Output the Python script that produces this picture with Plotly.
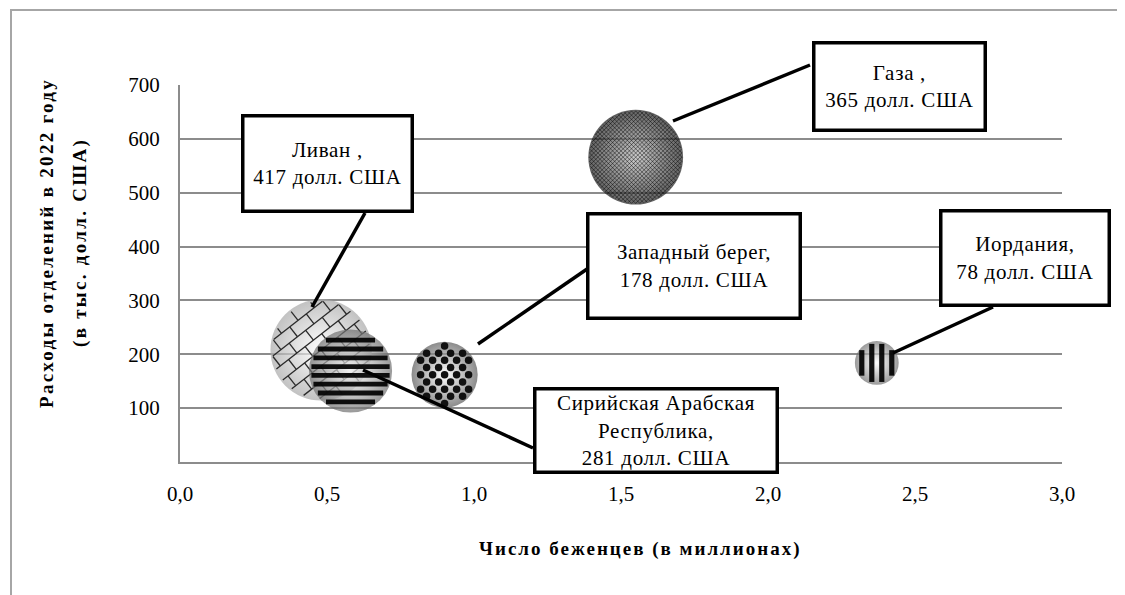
import math
import plotly.graph_objects as go

# ---------------- data ----------------
countries = ["Ливан", "Сирийская Арабская Республика", "Западный берег", "Газа", "Иордания"]
display_names = ["Ливан ", "Сирийская Арабская<br>Республика", "Западный берег", "Газа ", "Иордания"]
refugees_mln = [0.48, 0.58, 0.90, 1.55, 2.37]          # x: число беженцев (млн)
spending_k = [208, 169, 162, 566, 184]                  # y: расходы (тыс. долл. США)
per_refugee_usd = [417, 281, 178, 365, 78]              # bubble size / label value

x_tickvals = [0, 0.5, 1.0, 1.5, 2.0, 2.5, 3.0]
x_ticktext = ["0,0", "0,5", "1,0", "1,5", "2,0", "2,5", "3,0"]
y_tickvals = [100, 200, 300, 400, 500, 600, 700]
y_ticktext = ["100", "200", "300", "400", "500", "600", "700"]

x_title = "Число беженцев (в миллионах)"
y_title_1 = "Расходы отделений в 2022 году"
y_title_2 = "(в тыс. долл. США)"

# ---------------- styles / layout ----------------
OFF = 8                      # page body margin of the browser
W, H = 1125 - OFF, 595 - OFF
PLOT_L, PLOT_R, PLOT_T, PLOT_B = 180, 1062, 85, 462   # plot area in window pixels
ML, MR = PLOT_L - OFF, 1125 - PLOT_R
MT, MB = PLOT_T - OFF, 595 - PLOT_B
XR = [0, 3]
YR = [0, 700]
PW, PH = PLOT_R - PLOT_L, PLOT_B - PLOT_T
SX = PW / (XR[1] - XR[0])
SY = PH / (YR[1] - YR[0])
SIZEREF = 0.0813
FONT = "Liberation Serif, Times New Roman, serif"
GRID = "#8c8c8c"

patterns = ["brick", "hstripes", "dots", "crosshatch", "vstripes"]
edge_colors = ["#a8a8a8", "#6e6e6e", "#5a5a5a", "#1e1e1e", "#707070"]
center_colors = ["#ffffff", "#ffffff", "#ffffff", "#b5b5b5", "#ffffff"]

# label boxes (window pixel rectangles x0, y0, x1, y1) and connector lines
boxes = [(242, 115, 412, 211), (534, 388, 777, 472), (587, 213, 800, 318),
         (813, 42, 985, 130), (940, 211, 1109, 306)]
connectors = [((312, 307), (365, 213)), ((363, 370), (533, 448)), ((478, 344), (590, 267)),
              ((673, 121), (810, 65)), ((893, 353), (993, 307))]


def px_to_paper(px, py):
    return (px - PLOT_L) / PW, (PLOT_B - py) / PH


def radius_px(v):
    return math.sqrt(v / 2.0 / SIZEREF)


def clip_seg(p0, p1, r):
    (x0, y0), (x1, y1) = p0, p1
    dx, dy = x1 - x0, y1 - y0
    a = dx * dx + dy * dy
    b = 2 * (x0 * dx + y0 * dy)
    c = x0 * x0 + y0 * y0 - r * r
    disc = b * b - 4 * a * c
    if a == 0 or disc <= 0:
        return None
    s = math.sqrt(disc)
    t0 = max(0.0, (-b - s) / (2 * a))
    t1 = min(1.0, (-b + s) / (2 * a))
    if t1 <= t0:
        return None
    return (x0 + t0 * dx, y0 + t0 * dy), (x0 + t1 * dx, y0 + t1 * dy)


def segs_to_xy(segs, cx, cy):
    xs, ys = [], []
    for (a, b) in segs:
        for (px, py) in (a, b):
            xs.append(cx + px / SX)
            ys.append(cy - py / SY)
        xs.append(None)
        ys.append(None)
    return xs, ys


fig = go.Figure()

for i, name in enumerate(countries):
    cx, cy, v = refugees_mln[i], spending_k[i], per_refugee_usd[i]
    fig.add_trace(go.Scatter(
        x=[cx], y=[cy], mode="markers", name=name, hoverinfo="skip",
        marker=dict(size=[v], sizemode="area", sizeref=SIZEREF,
                    color=edge_colors[i], line=dict(width=0),
                    gradient=dict(type="radial", color=center_colors[i])),
    ))
    r = radius_px(v)
    kind = patterns[i]
    if kind in ("hstripes", "vstripes"):
        period, lw = (8.8, 4.8) if kind == "hstripes" else (10.0, 5.2)
        segs = []
        k = -int(r / period) - 1
        while k * period <= r:
            o = k * period + period / 2
            if abs(o) <= r - lw / 2 - 0.3:
                if kind == "hstripes":
                    s = clip_seg((-r - 5, o), (r + 5, o), r - 2.2)
                else:
                    s = clip_seg((o, -r - 5), (o, r + 5), r - 2.2)
                if s:
                    segs.append(s)
            k += 1
        xs, ys = segs_to_xy(segs, cx, cy)
        fig.add_trace(go.Scatter(x=xs, y=ys, mode="lines", hoverinfo="skip",
                                 line=dict(color="rgba(0,0,0,0.92)", width=lw)))
    elif kind == "brick":
        ang = math.radians(-38)
        ux, uy = math.cos(ang), math.sin(ang)
        vx, vy = -uy, ux
        rowsp, colsp = 12.5, 21.0
        segs = []
        n = int(r / rowsp) + 2
        for k in range(-n, n + 1):
            vo = k * rowsp
            p0 = (vo * vx - 2 * r * ux, vo * vy - 2 * r * uy)
            p1 = (vo * vx + 2 * r * ux, vo * vy + 2 * r * uy)
            s = clip_seg(p0, p1, r - 2)
            if s:
                segs.append(s)
            m = int(2 * r / colsp) + 2
            for j in range(-m, m + 1):
                uo = j * colsp + (colsp / 2 if k % 2 else 0)
                q0 = (vo * vx + uo * ux, vo * vy + uo * uy)
                q1 = ((vo + rowsp) * vx + uo * ux, (vo + rowsp) * vy + uo * uy)
                s = clip_seg(q0, q1, r - 2)
                if s:
                    segs.append(s)
        xs, ys = segs_to_xy(segs, cx, cy)
        fig.add_trace(go.Scatter(x=xs, y=ys, mode="lines", hoverinfo="skip",
                                 line=dict(color="#2a2a2a", width=1.3)))
    elif kind == "dots":
        rowsp, colsp = 7.2, 12.0
        dx_, dy_ = [], []
        n = int(r / rowsp) + 1
        for k in range(-n, n + 1):
            off = colsp / 2 if k % 2 else 0
            m = int(r / colsp) + 2
            for j in range(-m, m + 1):
                px, py = j * colsp + off, k * rowsp
                if math.hypot(px, py) <= r - 3:
                    dx_.append(cx + px / SX)
                    dy_.append(cy - py / SY)
        fig.add_trace(go.Scatter(x=dx_, y=dy_, mode="markers", hoverinfo="skip",
                                 marker=dict(size=7.5, color="#111111", line=dict(width=0))))
    elif kind == "crosshatch":
        sp = 4.2
        segs = []
        n = int(2 * r / sp) + 2
        for k in range(-n, n + 1):
            o = k * sp
            for (p0, p1) in (((o - 2 * r, -2 * r), (o + 2 * r, 2 * r)),
                             ((o - 2 * r, 2 * r), (o + 2 * r, -2 * r))):
                s = clip_seg(p0, p1, r - 1)
                if s:
                    segs.append(s)
        xs, ys = segs_to_xy(segs, cx, cy)
        fig.add_trace(go.Scatter(x=xs, y=ys, mode="lines", hoverinfo="skip",
                                 line=dict(color="rgba(0,0,0,0.45)", width=1)))

shapes = []
# outer frame
fx0, fy1 = px_to_paper(11, 10)
shapes.append(dict(type="rect", xref="paper", yref="paper", x0=fx0, y0=-0.6, x1=1.3, y1=fy1,
                   line=dict(color="#a6a6a6", width=2), layer="below"))
for (a, b) in connectors:
    x0, y0 = px_to_paper(*a)
    x1, y1 = px_to_paper(*b)
    shapes.append(dict(type="line", xref="paper", yref="paper", x0=x0, y0=y0, x1=x1, y1=y1,
                       line=dict(color="black", width=3.5), layer="above"))

BOXTXT = '<span style="letter-spacing:0.7px">{}</span>'
annotations = []
for i in range(len(countries)):
    x0, y0, x1, y1 = boxes[i]
    ax, ay = px_to_paper((x0 + x1) / 2, (y0 + y1) / 2)
    lines = f"{display_names[i]},<br>{per_refugee_usd[i]} долл. США".split("<br>")
    annotations.append(dict(
        xref="paper", yref="paper", x=ax, y=ay, xanchor="center", yanchor="middle",
        text="<br>".join(BOXTXT.format(t) for t in lines),
        showarrow=False, align="center", valign="middle",
        width=x1 - x0 - 4, height=y1 - y0 - 4, borderpad=0,
        bgcolor="white", bordercolor="black", borderwidth=3.5,
        font=dict(family=FONT, size=21, color="black"),
    ))

SPACED = '<span style="letter-spacing:{}px">{}</span>'
tx, ty = px_to_paper(640, 549)
annotations.append(dict(xref="paper", yref="paper", x=tx, y=ty, xanchor="center",
                        yanchor="middle", text="<b>" + SPACED.format(2.0, x_title) + "</b>",
                        showarrow=False, font=dict(family=FONT, size=19, color="black")))
for (xp, txt) in ((46, y_title_1), (80, y_title_2)):
    ax, ay = px_to_paper(xp, 243)
    annotations.append(dict(xref="paper", yref="paper", x=ax, y=ay, xanchor="center",
                            yanchor="middle", text="<b>" + SPACED.format(2.3, txt) + "</b>",
                            textangle=-90, showarrow=False,
                            font=dict(family=FONT, size=19, color="black")))

fig.update_layout(
    width=W, height=H, margin=dict(l=ML, r=MR, t=MT, b=MB),
    paper_bgcolor="white", plot_bgcolor="white", showlegend=False,
    font=dict(family=FONT, color="black"),
    shapes=shapes, annotations=annotations,
    xaxis=dict(range=XR, tickvals=x_tickvals, ticktext=x_ticktext, showgrid=False,
               zeroline=False, showline=True, linecolor=GRID, linewidth=2,
               ticks="outside", ticklen=12, tickcolor="rgba(0,0,0,0)",
               tickfont=dict(family=FONT, size=21, color="black"), fixedrange=True),
    yaxis=dict(range=YR, tickvals=y_tickvals, ticktext=y_ticktext, showgrid=True,
               gridcolor=GRID, gridwidth=2, zeroline=False, showline=True,
               linecolor=GRID, linewidth=2, ticks="outside", ticklen=14,
               tickcolor="rgba(0,0,0,0)",
               tickfont=dict(family=FONT, size=21, color="black"), fixedrange=True),
)

fig.write_html("out.html")
